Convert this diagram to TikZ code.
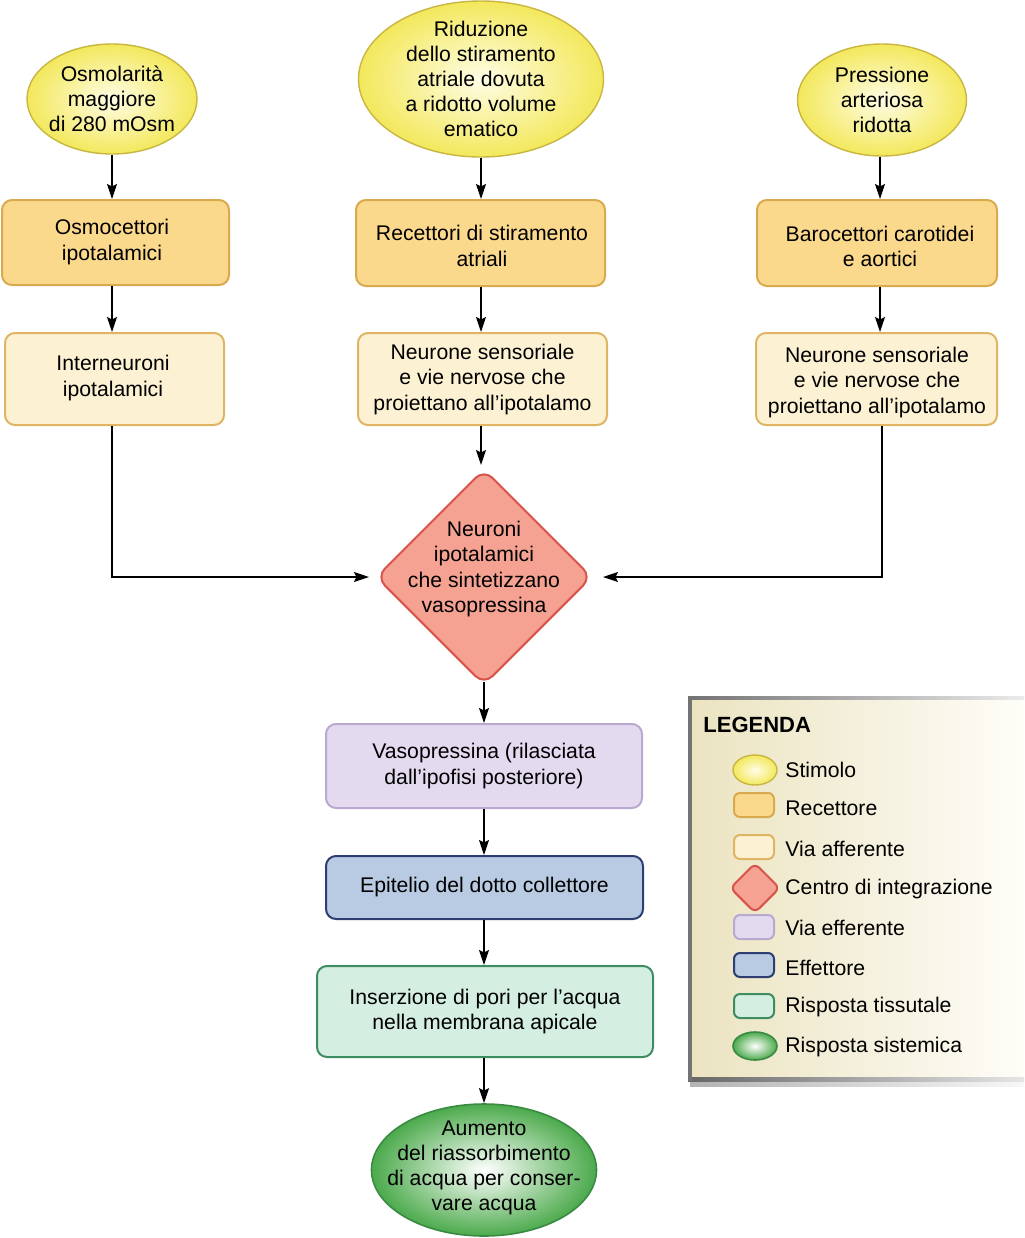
\documentclass[tikz,border=0pt]{standalone}
\usepackage{fontspec}
\setmainfont{Liberation Sans}
\usetikzlibrary{shapes.geometric,arrows.meta,shadings,calc}
\definecolor{stimB}{HTML}{C8B640}
\definecolor{stimO}{HTML}{F3E85C}
\definecolor{stimC}{HTML}{FFFDE6}
\definecolor{recF}{HTML}{FBD98C}
\definecolor{recB}{HTML}{D9A94E}
\definecolor{affF}{HTML}{FDF1D3}
\definecolor{affB}{HTML}{DFB462}
\definecolor{diaF}{HTML}{F5A293}
\definecolor{diaB}{HTML}{D8534A}
\definecolor{efaF}{HTML}{E3DAEF}
\definecolor{efaB}{HTML}{B9A8CF}
\definecolor{effF}{HTML}{B8CBE3}
\definecolor{effB}{HTML}{2D3E72}
\definecolor{tisF}{HTML}{D5EEE2}
\definecolor{tisB}{HTML}{3E8C62}
\definecolor{sisO}{HTML}{4CAA4C}
\definecolor{sisB}{HTML}{3A8A44}
\definecolor{legL}{HTML}{EBE3C0}
\definecolor{legR}{HTML}{FEFDF8}
\begin{document}
\begin{tikzpicture}[x=0.5pt,y=-0.5pt,
  txt/.style={align=center, font=\fontsize{10.6}{12.6}\selectfont, inner sep=0pt},
  ltxt/.style={anchor=west, font=\fontsize{10.6}{12.6}\selectfont, inner sep=0pt},
  arr/.style={line width=0.75pt, -{Stealth[length=7.5pt,width=5pt,inset=1.2pt]}},
  stim/.style={ellipse, draw=stimB, line width=0.7pt, inner color=stimC, outer color=stimO, inner sep=0pt},
  sist/.style={ellipse, draw=sisB, line width=0.8pt, inner color=white, outer color=sisO, inner sep=0pt},
  recbox/.style={rectangle, rounded corners=5pt, draw=recB, fill=recF, line width=1pt, inner sep=0pt},
  affbox/.style={rectangle, rounded corners=5pt, draw=affB, fill=affF, line width=1pt, inner sep=0pt},
  efabox/.style={rectangle, rounded corners=5pt, draw=efaB, fill=efaF, line width=1pt, inner sep=0pt},
  effbox/.style={rectangle, rounded corners=5pt, draw=effB, fill=effF, line width=1pt, inner sep=0pt},
  tisbox/.style={rectangle, rounded corners=5pt, draw=tisB, fill=tisF, line width=1pt, inner sep=0pt},
  centro/.style={diamond, aspect=1, draw=diaB, fill=diaF, line width=1pt, rounded corners=6pt, inner sep=0pt}
]
\useasboundingbox (0,0) rectangle (1024,1238);

% stimuli
\node[stim, minimum width=85pt, minimum height=55pt] (s1) at (112,99) {};
\node[txt] at (s1) {Osmolarità\\maggiore\\di 280 mOsm};
\node[stim, minimum width=122.5pt, minimum height=78pt] (s2) at (481,79) {};
\node[txt] at (s2) {Riduzione\\dello stiramento\\atriale dovuta\\a ridotto volume\\ematico};
\node[stim, minimum width=84.5pt, minimum height=56pt] (s3) at (882,100) {};
\node[txt] at (s3) {Pressione\\arteriosa\\ridotta};

% receptors
\node[recbox, minimum width=113.5pt, minimum height=42.5pt] (r1) at (115.5,242.5) {};
\node[txt] at (112,242) {Osmocettori\\ipotalamici};
\node[recbox, minimum width=124.5pt, minimum height=43pt] (r2) at (480.5,243) {};
\node[txt] at (482,246) {Recettori di stiramento\\atriali};
\node[recbox, minimum width=120pt, minimum height=43pt] (r3) at (877,243) {};
\node[txt] at (880,246.5) {Barocettori carotidei\\e aortici};

% afferent
\node[affbox, minimum width=109.5pt, minimum height=46pt] (a1) at (114.5,379) {};
\node[txt] at (113,378) {Interneuroni\\ipotalamici};
\node[affbox, minimum width=124.5pt, minimum height=46pt] (a2) at (482.5,379) {};
\node[txt] at (482.5,379.5) {Neurone sensoriale\\e vie nervose che\\proiettano all’ipotalamo};
\node[affbox, minimum width=120.5pt, minimum height=46pt] (a3) at (876.5,379) {};
\node[txt] at (877,382.5) {Neurone sensoriale\\e vie nervose che\\proiettano all’ipotalamo};

% integration centre
\node[centro, minimum width=108pt, minimum height=108pt] (d) at (484,577) {};
\node[txt, yshift=4pt] at (d) {Neuroni\\ipotalamici\\che sintetizzano\\vasopressina};

% efferent chain
\node[efabox, minimum width=158pt, minimum height=42pt] (v) at (484,766) {};
\node[txt] at (v) {Vasopressina (rilasciata\\dall’ipofisi posteriore)};
\node[effbox, minimum width=158.5pt, minimum height=31.5pt] (ep) at (484.5,887.5) {};
\node[txt] at (ep) {Epitelio del dotto collettore};
\node[tisbox, minimum width=168pt, minimum height=45.5pt] (ins) at (485,1011.5) {};
\node[txt] at (ins) {Inserzione di pori per l’acqua\\nella membrana apicale};
\node[sist, minimum width=112.5pt, minimum height=66pt] (g) at (484,1170) {};
\node[txt, yshift=1pt] at (g) {Aumento\\del riassorbimento\\di acqua per conser-\\vare acqua};

% connectors
\coordinate (cR) at (880,0);
\coordinate (cR2) at (882,0);
\draw[arr] (s1.south) -- (s1.south |- r1.north);
\draw[arr] (s1.south |- r1.south) -- (s1.south |- a1.north);
\draw[arr] (s2.south) -- (s2.south |- r2.north);
\draw[arr] (s2.south |- r2.south) -- (s2.south |- a2.north);
\draw[arr, shorten >=1.5pt] (s2.south |- a2.south) -- (s2.south |- d.north);
\draw[arr] (cR |- s3.south) -- (cR |- r3.north);
\draw[arr] (cR |- r3.south) -- (cR |- a3.north);
\draw[arr, shorten >=3pt] (s1.south |- a1.south) |- (d.west);
\draw[arr, shorten >=5pt] (cR2 |- a3.south) |- (d.east);
\draw[arr, shorten <=-2pt] (d.south) -- (v.north);
\draw[arr] (v.south) -- (ep.north -| v.south);
\draw[arr] (ep.south -| v.south) -- (ins.north -| v.south);
\draw[arr] (ins.south -| v.south) -- (g.north -| v.south);

% legend
\fill[left color=legL, right color=legR] (690,698) rectangle (1024,1080);
\shade[left color=black!30, right color=black!3] (690,1081) rectangle (1024,1086);
\shade[left color=black!55, right color=black!8] (688,696) rectangle (1024,699);
\shade[left color=black!60, right color=black!10] (688,1077) rectangle (1024,1081);
\fill[black!55] (688,696) rectangle (692,1081);
\node[anchor=west, font=\fontsize{11}{13}\selectfont\bfseries, inner sep=0pt] (lt) at (703,725) {LEGENDA};

\node[stim, minimum width=22pt, minimum height=15pt] (l1) at (755,770) {};
\node[ltxt] at (785,770) {Stimolo};
\node[recbox, rounded corners=3pt, minimum width=20pt, minimum height=12pt] (l2) at (754,805) {};
\node[ltxt] at (785,808) {Recettore};
\node[affbox, rounded corners=3pt, minimum width=20pt, minimum height=12pt] (l3) at (754,847) {};
\node[ltxt] at (785,849) {Via afferente};
\node[centro, rounded corners=3pt, minimum width=25pt, minimum height=25pt] (l4) at (755,888) {};
\node[ltxt] at (785,889) {Centro di integrazione};
\node[efabox, rounded corners=3pt, minimum width=20pt, minimum height=12pt] (l5) at (754,927) {};
\node[ltxt] at (785,928) {Via efferente};
\node[effbox, rounded corners=3pt, minimum width=20pt, minimum height=12pt] (l6) at (754,965) {};
\node[ltxt] at (785,968) {Effettore};
\node[tisbox, rounded corners=3pt, minimum width=20pt, minimum height=12pt] (l7) at (754,1006) {};
\node[ltxt] at (785,1007) {Risposta tissutale};
\node[sist, minimum width=22pt, minimum height=14pt] (l8) at (755,1046) {};
\node[ltxt] at (785,1047) {Risposta sistemica};
\end{tikzpicture}
\end{document}
